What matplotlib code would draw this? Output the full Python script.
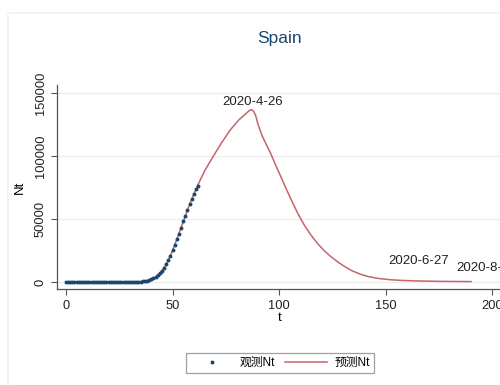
import matplotlib.pyplot as plt
from matplotlib.patches import Rectangle

plt.rcParams['font.family'] = ['Liberation Sans', 'Noto Sans CJK SC', 'DejaVu Sans']

# 观测值 (t = 0..62)
obs_t = list(range(0, 63))
obs_v = [0] * 30 + [50, 80, 120, 160, 200, 300, 450, 700, 1000, 1500,
                    2100, 2900, 3900, 5200, 6800, 8800, 11200, 14000, 17200, 21000,
                    25000, 29300, 33800, 38400, 43200, 48000, 52500, 57000, 61500, 65800,
                    69800, 73500, 76500]

# 预测曲线
pred_t = [0, 30, 35, 38, 40, 42, 44, 46, 48, 50, 52, 54, 56, 58, 60, 62, 65, 69, 73, 77,
          81, 84, 86, 87, 88, 89, 90, 92, 94, 96, 98, 100, 103, 106, 109, 112, 115, 118,
          121, 124, 127, 130, 134, 138, 142, 147, 152, 158, 165, 175, 190]
pred_v = [0, 50, 300, 1000, 2100, 3900, 6800, 11200, 17200, 25000, 33800, 43200, 52500,
          61500, 69800, 77500, 88000, 99500, 110500, 120500, 128500, 133000, 136000, 136800,
          135500, 132000, 125500, 116000, 109000, 102000, 94000, 86500, 75000, 64000, 53500,
          44500, 37000, 30500, 25000, 20500, 16500, 13000, 9000, 6200, 4200, 2700, 1800,
          1200, 800, 500, 300]

# 标注
ann_text = ['2020-4-26', '2020-6-27', '2020-8-8']
ann_t = [87.5, 165.6, 183]
ann_v = [143000, 16700, 11100]
ann_ha = ['center', 'center', 'left']

fig = plt.figure(figsize=(5, 3.85), dpi=100)
fig.patches.append(Rectangle((0.016, -0.1), 1.2, 1.066, transform=fig.transFigure,
                             fill=False, edgecolor='#f2f2f2', linewidth=1.2))

ax = fig.add_axes([0.114, 0.2486, 0.89, 0.5306])
ax.plot(obs_t, obs_v, 'o', color='#1a476f', markersize=1.8, label='观测Nt', zorder=3)
ax.plot(pred_t, pred_v, '-', color='#c4646c', linewidth=1.1, label='预测Nt', zorder=2)

for s, t, v, ha in zip(ann_text, ann_t, ann_v, ann_ha):
    ax.text(t, v, s, ha=ha, va='center', fontsize=9.5, color='#222222', clip_on=False)

ax.set_xlim(-4.2, 204.5)
ax.set_ylim(-5800, 156300)
ax.set_xticks([0, 50, 100, 150, 200])
ax.set_yticks([0, 50000, 100000, 150000])
ax.set_yticklabels(['0', '50000', '100000', '150000'], rotation=90, va='center')
ax.tick_params(labelsize=9.3, length=4, color='#555555', labelcolor='#222222')
ax.grid(axis='y', color='#eeeeee', linewidth=1)
ax.set_axisbelow(True)
for side in ['top', 'right']:
    ax.spines[side].set_visible(False)
for side in ['left', 'bottom']:
    ax.spines[side].set_color('#555555')
    ax.spines[side].set_linewidth(0.9)

ax.set_xlabel('t', fontsize=9.5, labelpad=0)
ax.set_ylabel('Nt', fontsize=9.5, labelpad=6)

fig.text(280 / 500, 1 - 38 / 385, 'Spain', ha='center', va='center',
         fontsize=12.5, color='#1a476f')

leg = fig.legend(loc='center', bbox_to_anchor=(280 / 500, 1 - 363 / 385), ncol=2,
                 fontsize=8.5, handlelength=3.6, handletextpad=0.6, columnspacing=0.8,
                 fancybox=False, edgecolor='#888888', borderpad=0.35, borderaxespad=0)
leg.get_frame().set_linewidth(0.9)

plt.savefig('out.png', dpi=100)
